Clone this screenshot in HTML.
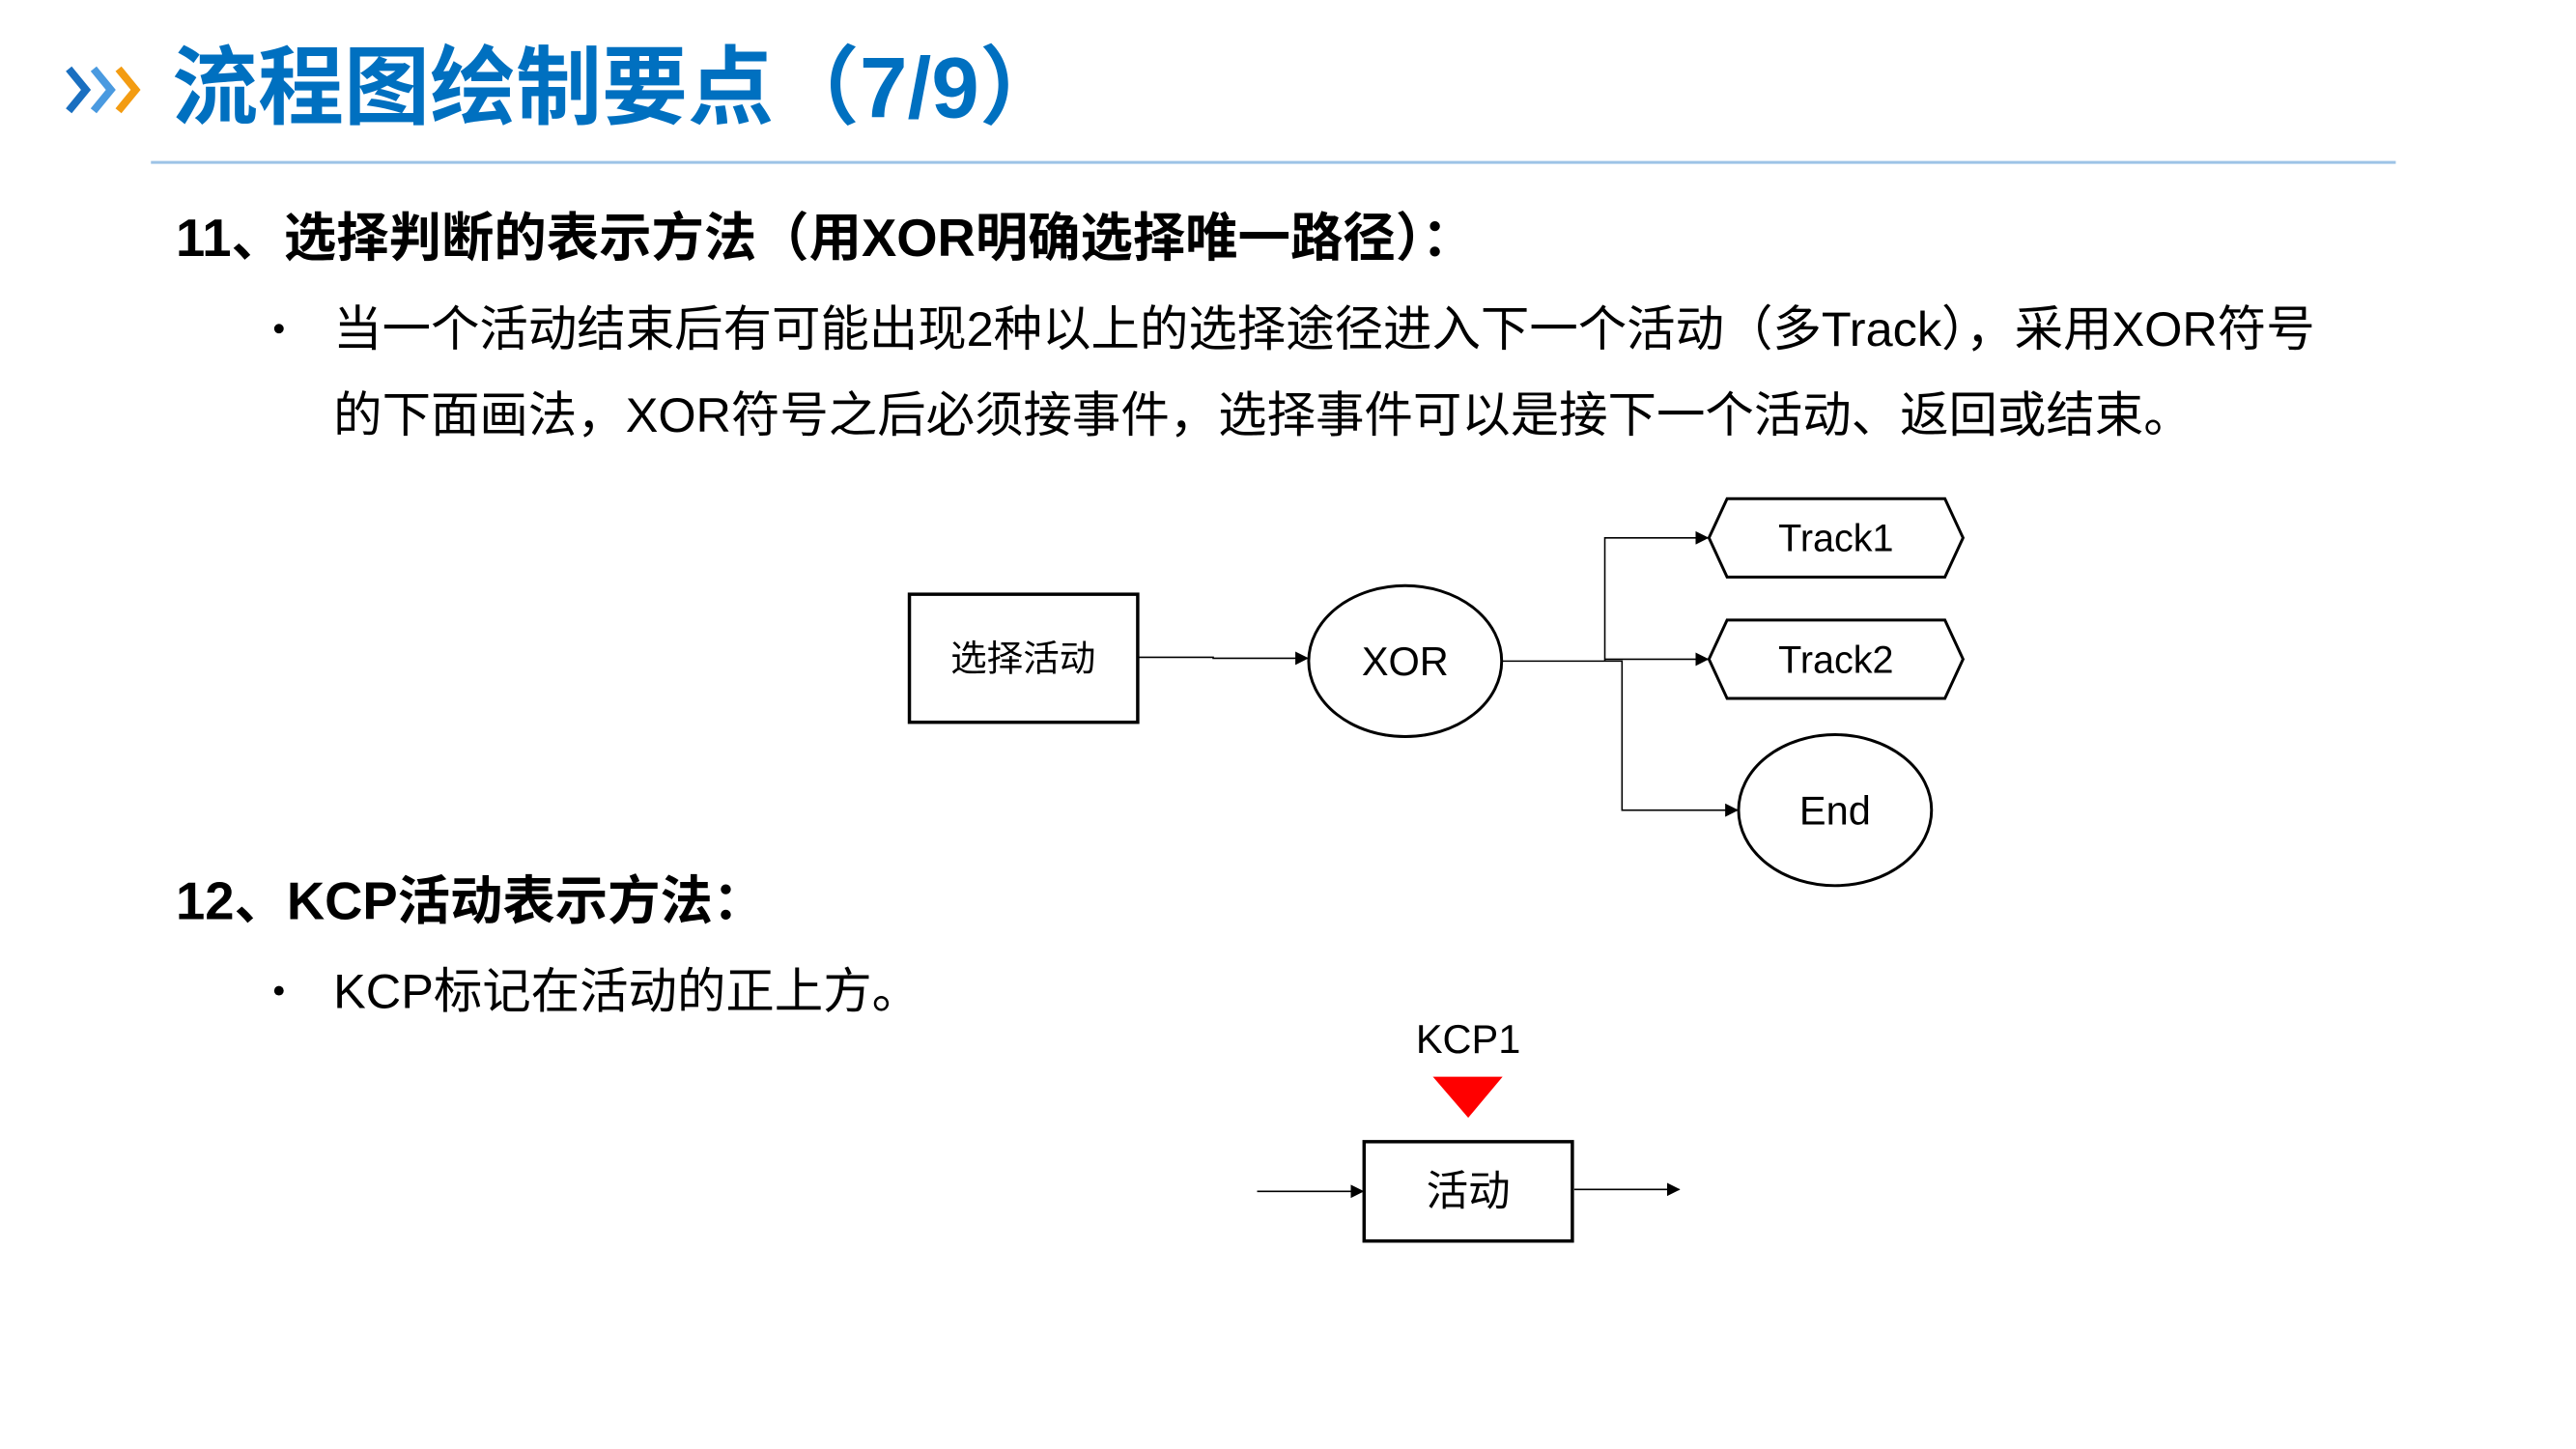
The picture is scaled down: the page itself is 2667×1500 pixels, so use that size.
<!DOCTYPE html>
<html><head><meta charset="utf-8"><style>
html,body{margin:0;padding:0;background:#fff;}
svg{display:block;}
text{font-family:"Liberation Sans","Noto Sans CJK SC",sans-serif;}
</style></head><body>
<svg width="2667" height="1500" viewBox="0 0 2667 1500" xmlns="http://www.w3.org/2000/svg">
<defs>
<marker id="ar2" markerWidth="14" markerHeight="14" refX="13" refY="7" orient="auto" markerUnits="userSpaceOnUse" viewBox="0 0 14 14">
<path d="M0,0 L14,7 L0,14 z" fill="#000"/></marker>
</defs>
<g transform="scale(0.989)">
<!-- chevrons -->
<g fill="none" stroke-width="8">
<path d="M72,72 L90,94 L72,116" stroke="#1a6fc0"/>
<path d="M98,72 L116,94 L98,116" stroke="#4a9ae0"/>
<path d="M124,72 L142,94 L124,116" stroke="#f39c12"/>
</g>
<text x="180" y="123" font-size="90" font-weight="bold" fill="#0070c0">流程图绘制要点（7/9）</text>
<line x1="158" y1="170" x2="2508" y2="170" stroke="#9dc3e6" stroke-width="3"/>

<text x="184" y="268" font-size="55" font-weight="bold" fill="#000">11、选择判断的表示方法（用XOR明确选择唯一路径）：</text>
<circle cx="292" cy="344" r="5" fill="#000"/>
<text x="349" y="362" font-size="51" fill="#000">当一个活动结束后有可能出现2种以上的选择途径进入下一个活动（多Track），采用XOR符号</text>
<text x="349" y="452" font-size="51" fill="#000">的下面画法，XOR符号之后必须接事件，选择事件可以是接下一个活动、返回或结束。</text>

<!-- diagram 1 -->
<rect x="952" y="622" width="239" height="134" fill="#fff" stroke="#000" stroke-width="3.5"/>
<text x="1071" y="702" font-size="38" text-anchor="middle">选择活动</text>
<ellipse cx="1471" cy="692" rx="101" ry="79" fill="#fff" stroke="#000" stroke-width="3"/>
<text x="1471" y="707" font-size="42" text-anchor="middle">XOR</text>
<polygon points="1808,522 2036,522 2055,563 2036,604 1808,604 1789,563" fill="#fff" stroke="#000" stroke-width="3"/>
<text x="1922" y="577" font-size="40" text-anchor="middle">Track1</text>
<polygon points="1808,649 2036,649 2055,690 2036,731 1808,731 1789,690" fill="#fff" stroke="#000" stroke-width="3"/>
<text x="1922" y="704" font-size="40" text-anchor="middle">Track2</text>
<ellipse cx="1921" cy="848" rx="101" ry="79" fill="#fff" stroke="#000" stroke-width="3"/>
<text x="1921" y="863" font-size="42" text-anchor="middle">End</text>
<g stroke="#000" stroke-width="1.6" fill="none">
<path d="M1192,688 L1270,688 L1270,689 L1369,689" marker-end="url(#ar2)"/>
<path d="M1572,692 L1680,692"/>
<path d="M1680,692 L1680,563 L1788,563" marker-end="url(#ar2)"/>
<path d="M1680,690 L1788,690" marker-end="url(#ar2)"/>
<path d="M1680,692 L1698,692 L1698,848 L1819,848" marker-end="url(#ar2)"/>
</g>

<text x="184" y="962" font-size="55" font-weight="bold" fill="#000">12、KCP活动表示方法：</text>
<circle cx="292" cy="1037" r="5" fill="#000"/>
<text x="349" y="1055" font-size="51" fill="#000">KCP标记在活动的正上方。</text>

<!-- diagram 2 -->
<text x="1537" y="1102" font-size="42" text-anchor="middle">KCP1</text>
<polygon points="1500,1127 1573,1127 1537,1170" fill="#ff0000"/>
<rect x="1428" y="1195" width="218" height="104" fill="#fff" stroke="#000" stroke-width="3.5"/>
<text x="1537" y="1262" font-size="44" text-anchor="middle">活动</text>
<g stroke="#000" stroke-width="1.6" fill="none">
<path d="M1316,1247 L1427,1247" marker-end="url(#ar2)"/>
<path d="M1648,1245 L1758,1245" marker-end="url(#ar2)"/>
</g>
</g>
</svg>
</body></html>
